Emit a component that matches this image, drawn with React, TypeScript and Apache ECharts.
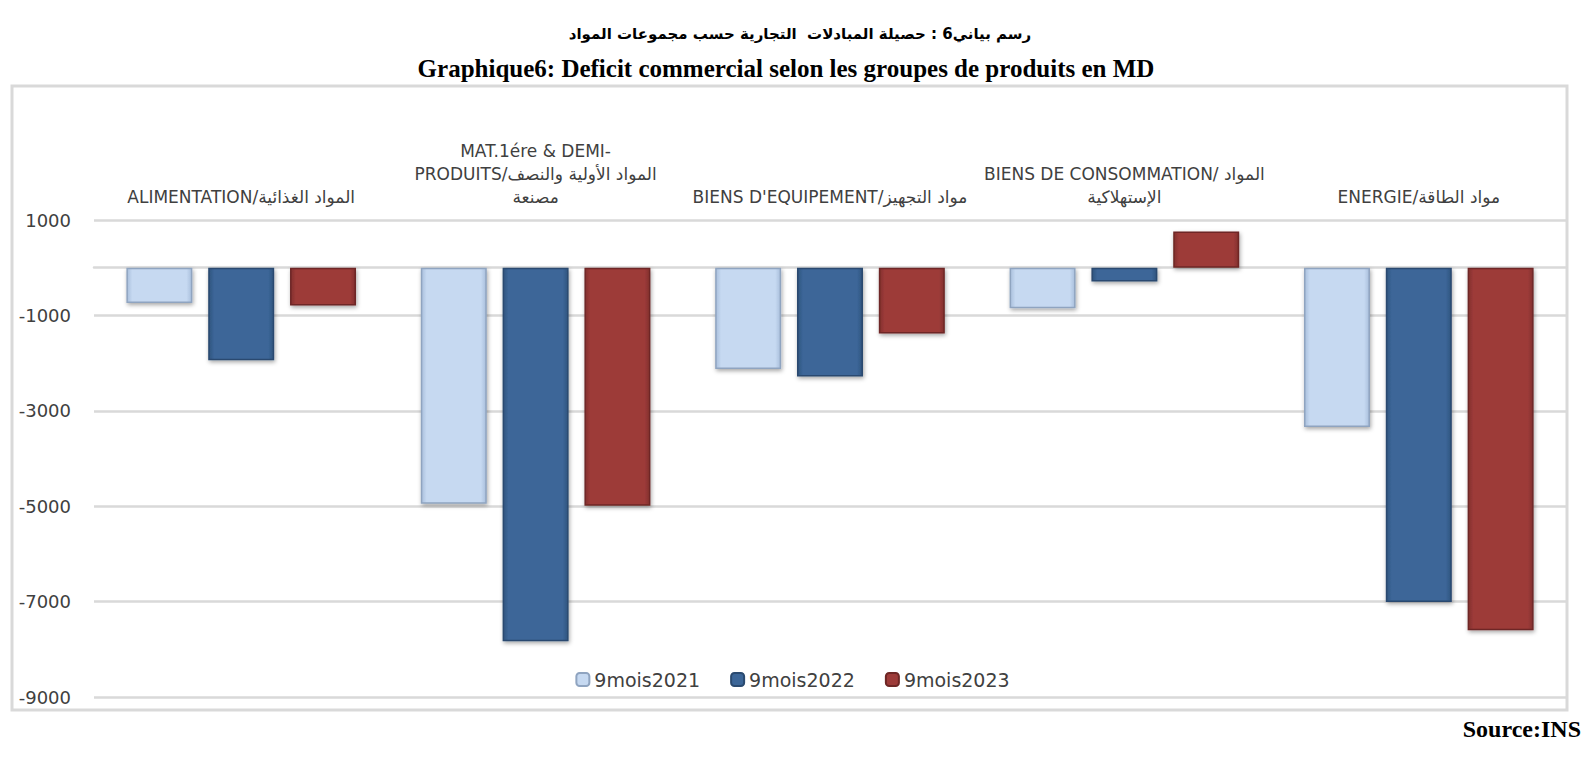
import React, { useEffect, useRef } from "react";
import * as echarts from "echarts";

const categories = [
  "ALIMENTATION/المواد الغذائية",
  "MAT.1ére & DEMI-\nPRODUITS/المواد الأولية والنصف\nمصنعة",
  "BIENS D'EQUIPEMENT/مواد التجهيز",
  "BIENS DE CONSOMMATION/ المواد\nالإستهلاكية",
  "ENERGIE/مواد الطاقة",
];
const seriesNames = ["9mois2021", "9mois2022", "9mois2023"];
const v2021 = [-740, -4950, -2125, -850, -3340];
const v2022 = [-1940, -7830, -2280, -290, -7010];
const v2023 = [-790, -4990, -1380, 760, -7600];
const yTicks = { min: -9000, max: 1000, interval: 2000 };

const titleAr = "رسم بياني6 : حصيلة المبادلات  التجارية حسب مجموعات المواد";
const titleFr = "Graphique6: Deficit commercial selon les groupes de produits en MD";
const sourceText = "Source:INS";

const palette = [
  { fill: "#c6d9f1", edge: "#a9bfdc", border: "#8fa4c0" },
  { fill: "#3c6698", edge: "#30557f", border: "#2a4a70" },
  { fill: "#9d3b39", edge: "#83302e", border: "#6e2725" },
];

function grad(p: { fill: string; edge: string }) {
  return new echarts.graphic.LinearGradient(0, 0, 1, 0, [
    { offset: 0, color: p.edge },
    { offset: 0.08, color: p.fill },
    { offset: 0.92, color: p.fill },
    { offset: 1, color: p.edge },
  ]);
}

export default function App() {
  const ref = useRef<HTMLDivElement>(null);
  useEffect(() => {
    if (!ref.current) return;
    const chart = echarts.init(ref.current, null, { renderer: "svg" });
    const data = [v2021, v2022, v2023];
    chart.setOption({
      animation: false,
      backgroundColor: "#ffffff",
      graphic: [
        {
          type: "rect",
          shape: { x: 12, y: 86, width: 1555, height: 624 },
          style: { fill: "none", stroke: "#d9d9d9", lineWidth: 3 },
          z: -1,
        },
        {
          type: "text",
          x: 800,
          y: 34,
          style: {
            text: titleAr,
            font: "bold 15px 'DejaVu Sans', 'Noto Sans', sans-serif",
            fill: "#000",
            align: "center",
            verticalAlign: "middle",
          },
        },
        {
          type: "text",
          x: 786,
          y: 68,
          style: {
            text: titleFr,
            font: "bold 25px 'Liberation Serif', serif",
            fill: "#000",
            align: "center",
            verticalAlign: "middle",
          },
        },
        {
          type: "text",
          x: 1581,
          y: 729,
          style: {
            text: sourceText,
            font: "bold 24px 'Liberation Serif', serif",
            fill: "#000",
            align: "right",
            verticalAlign: "middle",
          },
        },
      ],
      legend: {
        data: seriesNames,
        left: "center",
        top: 665,
        itemWidth: 13,
        itemHeight: 13,
        itemGap: 30,
        textStyle: { fontFamily: "'DejaVu Sans', sans-serif", fontSize: 19, color: "#404040" },
      },
      grid: { left: 94, right: 19, top: 220, bottom: 66, containLabel: false },
      xAxis: [
        {
          type: "category",
          data: categories,
          position: "bottom",
          axisLine: { show: true, onZero: true, lineStyle: { color: "#d9d9d9", width: 2.5 } },
          axisTick: { show: false },
          axisLabel: { show: false },
        },
        {
          type: "category",
          data: categories,
          position: "top",
          axisLine: { show: false },
          axisTick: { show: false },
          axisLabel: {
            interval: 0,
            margin: 12,
            fontFamily: "'DejaVu Sans', sans-serif",
            fontSize: 17,
            lineHeight: 23,
            color: "#404040",
          },
        },
      ],
      yAxis: {
        type: "value",
        min: yTicks.min,
        max: yTicks.max,
        interval: yTicks.interval,
        axisLine: { show: false },
        axisTick: { show: false },
        axisLabel: {
          margin: 23,
          fontFamily: "'DejaVu Sans', sans-serif",
          fontSize: 18,
          color: "#404040",
          formatter: (v: number) => String(v),
        },
        splitLine: { lineStyle: { color: "#d9d9d9", width: 2.5 } },
      },
      series: seriesNames.map((name, i) => ({
        name,
        type: "bar",
        xAxisIndex: 0,
        data: data[i],
        barGap: "24%",
        barCategoryGap: "22%",
        itemStyle: {
          color: grad(palette[i]),
          borderColor: palette[i].border,
          borderWidth: 1.5,
          shadowColor: "rgba(0,0,0,0.35)",
          shadowBlur: 4,
          shadowOffsetX: 1,
          shadowOffsetY: 2,
        },
      })),
    });
    return () => chart.dispose();
  }, []);
  return (
    <div
      ref={ref}
      style={{ position: "fixed", left: 0, top: 0, width: 1585, height: 763 }}
    />
  );
}
